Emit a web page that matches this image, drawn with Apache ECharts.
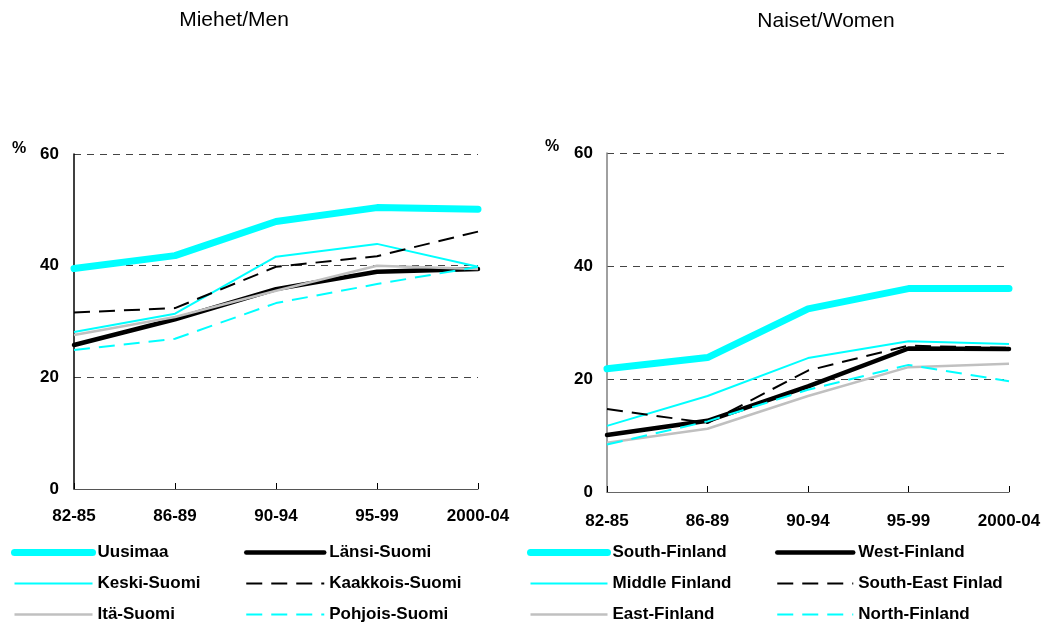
<!DOCTYPE html>
<html>
<head>
<meta charset="utf-8">
<script src="https://cdn.jsdelivr.net/npm/echarts@6/dist/echarts.min.js"></script>
<style>
  html, body { margin: 0; padding: 0; background: #fff; }
  #chart { width: 1048px; height: 626px; }
</style>
</head>
<body>
<div id="chart"></div>
<script>
// periods on x axis
const periods = ['82-85', '86-89', '90-94', '95-99', '2000-04'];
const yTicks = [0, 20, 40, 60];

// men, by region (%)
const uusimaa = [39.5, 41.8, 47.9, 50.4, 50.1];
const lansiSuomi = [25.8, 30.4, 35.8, 38.9, 39.4];
const keskiSuomi = [28.1, 31.4, 41.6, 43.9, 39.8];
const kaakkoisSuomi = [31.6, 32.4, 39.8, 41.7, 46.1];
const itaSuomi = [27.6, 30.8, 35.5, 40.0, 39.4];
const pohjoisSuomi = [24.9, 26.9, 33.3, 36.7, 39.8];

// women, by region (%)
const southFinland = [21.8, 23.8, 32.4, 36.0, 36.0];
const westFinland = [10.1, 12.6, 18.7, 25.4, 25.3];
const middleFinland = [11.7, 17.0, 23.7, 26.7, 26.2];
const southEastFinland = [14.7, 12.2, 21.5, 25.9, 25.5];
const eastFinland = [8.7, 11.2, 17.0, 22.1, 22.7];
const northFinland = [8.4, 12.5, 18.1, 22.5, 19.6];

const myChart = echarts.init(document.getElementById('chart'));

const FONT = '"Liberation Sans", Arial, sans-serif';
const CYAN = '#00ffff';
const GRAY = '#c0c0c0';

// line looks, same order for both panels
const looks = [
  { color: CYAN, width: 7, type: 'solid', cap: 'round' },
  { color: '#000', width: 4.5, type: 'solid', cap: 'round' },
  { color: CYAN, width: 2, type: 'solid', cap: 'butt' },
  { color: '#000', width: 2, type: [16, 9], cap: 'butt' },
  { color: GRAY, width: 2.5, type: 'solid', cap: 'butt' },
  { color: CYAN, width: 2, type: [16, 9], cap: 'butt' }
];

const menNames = ['Uusimaa', 'Länsi-Suomi', 'Keski-Suomi', 'Kaakkois-Suomi', 'Itä-Suomi', 'Pohjois-Suomi'];
const menData = [uusimaa, lansiSuomi, keskiSuomi, kaakkoisSuomi, itaSuomi, pohjoisSuomi];
const womenNames = ['South-Finland', 'West-Finland', 'Middle Finland', 'South-East Finlad', 'East-Finland', 'North-Finland'];
const womenData = [southFinland, westFinland, middleFinland, southEastFinland, eastFinland, northFinland];

function makeSeries(names, data, idx) {
  return names.map(function (name, i) {
    return {
      name: name,
      type: 'line',
      xAxisIndex: idx,
      yAxisIndex: idx,
      symbol: 'none',
      silent: true,
      animation: false,
      data: data[i],
      lineStyle: {
        color: looks[i].color,
        width: looks[i].width,
        type: looks[i].type,
        cap: looks[i].cap
      },
      itemStyle: { color: looks[i].color }
    };
  });
}

function makeXAxis(idx, margin, lineColor) {
  return {
    gridIndex: idx,
    type: 'category',
    boundaryGap: false,
    data: periods,
    axisLine: { lineStyle: { color: lineColor, width: 1 } },
    axisTick: { show: true, inside: true, length: 6, lineStyle: { color: '#000' } },
    axisLabel: {
      margin: margin,
      color: '#000',
      fontFamily: FONT,
      fontWeight: 'bold',
      fontSize: 17,
      interval: 0
    },
    splitLine: { show: false }
  };
}

function makeYAxis(idx, lineColor, margin) {
  return {
    gridIndex: idx,
    type: 'value',
    min: yTicks[0],
    max: yTicks[yTicks.length - 1],
    interval: 20,
    axisLine: { show: true, lineStyle: { color: lineColor, width: 1.5 } },
    axisTick: { show: false },
    axisLabel: {
      margin: margin,
      color: '#000',
      fontFamily: FONT,
      fontWeight: 'bold',
      fontSize: 17
    },
    splitLine: {
      show: true,
      lineStyle: { color: '#444', width: 1, type: [7, 6] }
    }
  };
}

function makeLegend(names, left, itemWidth) {
  return {
    orient: 'vertical',
    left: left,
    top: 544,
    height: 200,
    padding: 0,
    itemWidth: itemWidth,
    itemHeight: 16,
    itemGap: 14,
    selectedMode: false,
    data: names,
    // hide the marker dot, keep the line
    itemStyle: { opacity: 0, borderWidth: 0 },
    lineStyle: {
      width: 'inherit',
      type: 'inherit',
      cap: 'inherit',
      color: 'inherit'
    },
    textStyle: {
      fontFamily: FONT,
      fontWeight: 'bold',
      fontSize: 17,
      lineHeight: 16,
      color: '#000'
    }
  };
}

const options = {
  backgroundColor: '#fff',
  animation: false,
  title: [
    { text: 'Miehet/Men', left: 234, top: 10, textAlign: 'center', padding: 0,
      textStyle: { fontFamily: FONT, fontWeight: 'normal', fontSize: 21, color: '#000' } },
    { text: 'Naiset/Women', left: 826, top: 11, textAlign: 'center', padding: 0,
      textStyle: { fontFamily: FONT, fontWeight: 'normal', fontSize: 21, color: '#000' } },
    { text: '%', left: 12, top: 141, padding: 0,
      textStyle: { fontFamily: FONT, fontWeight: 'bold', fontSize: 16, color: '#000' } },
    { text: '%', left: 545, top: 139, padding: 0,
      textStyle: { fontFamily: FONT, fontWeight: 'bold', fontSize: 16, color: '#000' } }
  ],
  grid: [
    { left: 74, top: 154, width: 404, height: 335 },
    { left: 607, top: 153, width: 402, height: 339 }
  ],
  xAxis: [makeXAxis(0, 19, '#555'), makeXAxis(1, 21, '#666')],
  yAxis: [makeYAxis(0, '#000', 15), makeYAxis(1, '#808080', 14)],
  legend: [
    makeLegend(menNames.filter((n, i) => i % 2 === 0), 11, 78),
    makeLegend(menNames.filter((n, i) => i % 2 === 1), 244, 78),
    makeLegend(womenNames.filter((n, i) => i % 2 === 0), 527, 77),
    makeLegend(womenNames.filter((n, i) => i % 2 === 1), 775, 76)
  ],
  series: makeSeries(menNames, menData, 0).concat(makeSeries(womenNames, womenData, 1))
};

myChart.setOption(options);
</script>
</body>
</html>
